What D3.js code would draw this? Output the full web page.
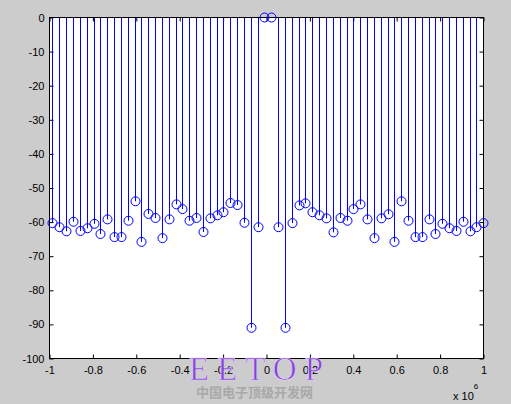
<!DOCTYPE html>
<html>
<head>
<meta charset="utf-8">
<script src="https://cdn.jsdelivr.net/npm/d3@7"></script>
<style>
  body { margin: 0; background: #cccccc; }
  svg { display: block; font-family: "Liberation Sans", Arial, sans-serif; }
</style>
</head>
<body>
<svg id="chart" width="511" height="404"></svg>
<script>
// frequency bins (Hz): first bin and bin width
const freqStart = -986200;
const freqStep = 31510;

// stem heights in dB, one per bin, left to right
const magnitudes = [
  -60.3, -61.5, -62.7, -59.9, -62.6, -61.8, -60.5, -63.5,
  -59.2, -64.4, -64.4, -59.6, -53.9, -65.8, -57.6, -58.8,
  -64.7, -59.2, -54.8, -56.2, -59.6, -58.8, -62.9, -58.9,
  -58.0, -57.1, -54.4, -55.0, -60.2, -91.0, -61.5, 0,
  0, -61.5, -91.0, -60.3, -55.1, -54.5, -57.1, -58.0,
  -58.9, -63.0, -58.8, -59.6, -56.2, -54.8, -59.2, -64.7,
  -58.9, -57.7, -65.8, -53.9, -59.6, -64.4, -64.4, -59.2,
  -63.5, -60.5, -61.8, -62.6, -59.9, -62.7, -61.5, -60.3,
];

const xTickLabels = ["-1", "-0.8", "-0.6", "-0.4", "-0.2", "0",
  "0.2", "0.4", "0.6", "0.8", "1"];
const yTickLabels = ["0", "-10", "-20", "-30", "-40", "-50",
  "-60", "-70", "-80", "-90", "-100"];

const svg = d3.select("svg#chart");
const box = {left: 49.5, right: 483.5, top: 17.5, bottom: 358.5};

const x = d3.scaleLinear().domain([-1e6, 1e6]).range([box.left, box.right]);
const y = d3.scaleLinear().domain([-100, 0]).range([box.bottom, box.top]);

const points = magnitudes.map((v, i) => [freqStart + i * freqStep, v]);
const xTicks = xTickLabels.map((t) => +t * 1e6);
const yTicks = yTickLabels.map((t) => +t);

// white plot area
svg.append("rect")
    .attr("x", box.left)
    .attr("y", box.top)
    .attr("width", box.right - box.left)
    .attr("height", box.bottom - box.top)
    .attr("fill", "#ffffff");

/**
 * Adds an axis with inward ticks and no domain line.
 * @param {function} axis A configured d3 axis.
 * @param {string} transform Translation for the axis group.
 */
function addAxis(axis, transform) {
  const g = svg.append("g")
      .attr("transform", transform)
      .call(axis);
  g.select(".domain").remove();
  g.selectAll(".tick line").attr("stroke", "#000000");
  g.selectAll(".tick text")
      .attr("fill", "#000000")
      .attr("font-size", 11)
      .attr("font-family", "Liberation Sans, Arial, sans-serif");
}

addAxis(d3.axisBottom(x).tickValues(xTicks).tickSize(-4).tickPadding(8)
    .tickFormat((d, i) => xTickLabels[i]), "translate(0," + box.bottom + ")");
addAxis(d3.axisTop(x).tickValues(xTicks).tickSize(-4).tickFormat(""),
    "translate(0," + box.top + ")");
addAxis(d3.axisLeft(y).tickValues(yTicks).tickSize(-4).tickPadding(5)
    .tickFormat((d, i) => yTickLabels[i]), "translate(" + box.left + ",0)");
addAxis(d3.axisRight(y).tickValues(yTicks).tickSize(-4).tickFormat(""),
    "translate(" + box.right + ",0)");

// stems from the 0 dB baseline
svg.append("g")
    .selectAll("line")
    .data(points)
    .join("line")
    .attr("x1", (d) => Math.round(x(d[0])) + 0.5)
    .attr("x2", (d) => Math.round(x(d[0])) + 0.5)
    .attr("y1", y(0))
    .attr("y2", (d) => y(d[1]))
    .attr("stroke", "#0000ff")
    .attr("stroke-width", 1);

// box border
svg.append("rect")
    .attr("x", box.left)
    .attr("y", box.top)
    .attr("width", box.right - box.left)
    .attr("height", box.bottom - box.top)
    .attr("fill", "none")
    .attr("stroke", "#000000")
    .attr("stroke-width", 1);

// markers
svg.append("g")
    .selectAll("circle")
    .data(points)
    .join("circle")
    .attr("cx", (d) => Math.round(x(d[0])) + 0.5)
    .attr("cy", (d) => y(d[1]))
    .attr("r", 4.5)
    .attr("fill", "none")
    .attr("stroke", "#0000ff")
    .attr("stroke-width", 1);

// exponent label
const expo = svg.append("text")
    .attr("x", 453)
    .attr("y", 400)
    .attr("font-size", 11)
    .attr("fill", "#000000");
expo.append("tspan").text("x 10");
expo.append("tspan")
    .attr("dy", -11)
    .attr("font-size", 8)
    .text("6");

// watermark
svg.append("text")
    .attr("x", 189)
    .attr("y", 380)
    .attr("font-family", "Liberation Serif, DejaVu Serif, serif")
    .attr("font-size", 33)
    .attr("textLength", 134)
    .attr("lengthAdjust", "spacing")
    .attr("fill", "#8244d4")
    .attr("stroke", "#e2d2fa")
    .attr("stroke-width", 0.7)
    .text("EETOP");
svg.append("text")
    .attr("x", 196)
    .attr("y", 397)
    .attr("font-family", "Noto Sans CJK SC, sans-serif")
    .attr("font-size", 13)
    .attr("font-weight", "bold")
    .attr("fill", "#a8a8a8")
    .text("中国电子顶级开发网");
</script>
</body>
</html>
